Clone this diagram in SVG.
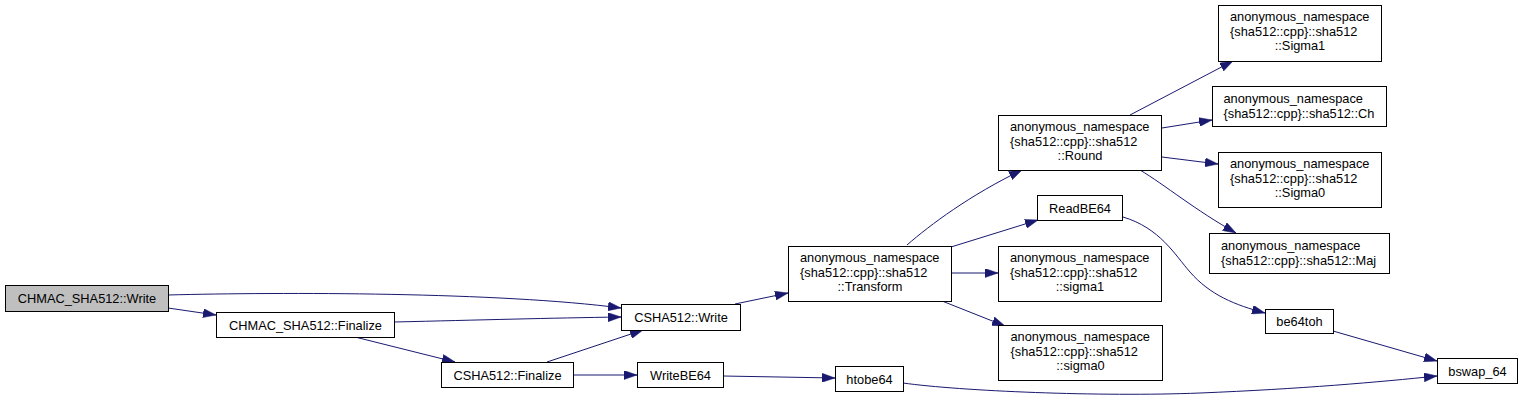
<svg xmlns="http://www.w3.org/2000/svg" width="1523" height="402" viewBox="0 0 1523 402">
<style>
.n rect{fill:#fff;stroke:#000;stroke-width:1}
.n text{font-family:"Liberation Sans",Arial,sans-serif;font-size:12.8px;fill:#000}
.c{text-anchor:middle}
.e path{fill:none;stroke:#191970;stroke-width:1;marker-end:url(#a)}
</style>
<defs>
<marker id="a" viewBox="0 0 13 9" refX="13" refY="4.5" markerWidth="13" markerHeight="9" orient="auto" markerUnits="userSpaceOnUse">
<path d="M0,0 L13,4.5 L0,9 z" fill="#191970" stroke="#191970" stroke-width="0.5"/>
</marker>
</defs>
<rect width="1523" height="402" fill="#fff"/>
<g id="edges" class="e">
<path d="M168,295 C280,292 500,292 621,308"/>
<path d="M168,308 L216,315"/>
<path d="M394,322 C480,320 550,318 621,317"/>
<path d="M355,337 L455,362"/>
<path d="M547,362 L643,330"/>
<path d="M573,375 L637,375"/>
<path d="M735,304 L788,293"/>
<path d="M723,376 L835,378"/>
<path d="M903,383 C960,391 1100,397 1200,393 C1300,389 1380,382 1437,376"/>
<path d="M907,245 C930,225 970,195 1022,170"/>
<path d="M951,247 L1038,220"/>
<path d="M951,273 L998,273"/>
<path d="M942,301 L1005,326"/>
<path d="M1130,115 L1233,61"/>
<path d="M1162,128 L1212,120"/>
<path d="M1162,157 L1218,164"/>
<path d="M1140,170 C1165,185 1195,210 1236,233"/>
<path d="M1123,217 C1160,228 1175,255 1190,272 C1210,295 1235,305 1265,313"/>
<path d="M1333,331 L1437,361"/>
</g>
<g id="n1" class="n"><rect x="5.5" y="285.5" width="163" height="26" style="fill:#bfbfbf"/><text class="c" x="87" y="302.5">CHMAC_SHA512::Write</text></g>
<g id="n2" class="n"><rect x="216.5" y="312.5" width="178" height="25"/><text class="c" x="305.5" y="329.5">CHMAC_SHA512::Finalize</text></g>
<g id="n3" class="n"><rect x="621.5" y="304.5" width="119" height="26"/><text class="c" x="681" y="321.5">CSHA512::Write</text></g>
<g id="n4" class="n"><rect x="441.5" y="362.5" width="132" height="25"/><text class="c" x="507.5" y="379.5">CSHA512::Finalize</text></g>
<g id="n5" class="n"><rect x="637.5" y="362.5" width="86" height="25"/><text class="c" x="680.5" y="379.5">WriteBE64</text></g>
<g id="n6" class="n"><rect x="835.5" y="366.5" width="68" height="25"/><text class="c" x="869.5" y="383.5">htobe64</text></g>
<g id="n7" class="n"><rect x="788.5" y="246.5" width="163" height="55"/><text x="800" y="262">anonymous_namespace</text><text x="800" y="276.5">{sha512::cpp}::sha512</text><text class="c" x="870" y="291">::Transform</text></g>
<g id="n8" class="n"><rect x="998.5" y="115.5" width="163" height="55"/><text x="1010" y="131">anonymous_namespace</text><text x="1010" y="145.5">{sha512::cpp}::sha512</text><text class="c" x="1080" y="160">::Round</text></g>
<g id="n9" class="n"><rect x="1037.5" y="195.5" width="85" height="25"/><text class="c" x="1080" y="212.5">ReadBE64</text></g>
<g id="n10" class="n"><rect x="998.5" y="246.5" width="163" height="55"/><text x="1010" y="262">anonymous_namespace</text><text x="1010" y="276.5">{sha512::cpp}::sha512</text><text class="c" x="1080" y="291">::sigma1</text></g>
<g id="n11" class="n"><rect x="998.5" y="325.5" width="164" height="55"/><text x="1010.5" y="341">anonymous_namespace</text><text x="1010.5" y="355.5">{sha512::cpp}::sha512</text><text class="c" x="1080.5" y="370">::sigma0</text></g>
<g id="n12" class="n"><rect x="1218.5" y="5.5" width="163" height="56"/><text x="1230" y="21">anonymous_namespace</text><text x="1230" y="35.5">{sha512::cpp}::sha512</text><text class="c" x="1300" y="50">::Sigma1</text></g>
<g id="n13" class="n"><rect x="1212.5" y="86.5" width="174" height="40"/><text x="1223.5" y="103">anonymous_namespace</text><text x="1223.5" y="117.5">{sha512::cpp}::sha512::Ch</text></g>
<g id="n14" class="n"><rect x="1218.5" y="152.5" width="163" height="55"/><text x="1230" y="168">anonymous_namespace</text><text x="1230" y="182.5">{sha512::cpp}::sha512</text><text class="c" x="1300" y="197">::Sigma0</text></g>
<g id="n15" class="n"><rect x="1209.5" y="233.5" width="180" height="40"/><text x="1221" y="250">anonymous_namespace</text><text x="1221" y="264.5">{sha512::cpp}::sha512::Maj</text></g>
<g id="n16" class="n"><rect x="1265.5" y="309.5" width="68" height="24"/><text class="c" x="1299.5" y="326">be64toh</text></g>
<g id="n17" class="n"><rect x="1437.5" y="358.5" width="80" height="25"/><text class="c" x="1477.5" y="375.5">bswap_64</text></g>
</svg>
